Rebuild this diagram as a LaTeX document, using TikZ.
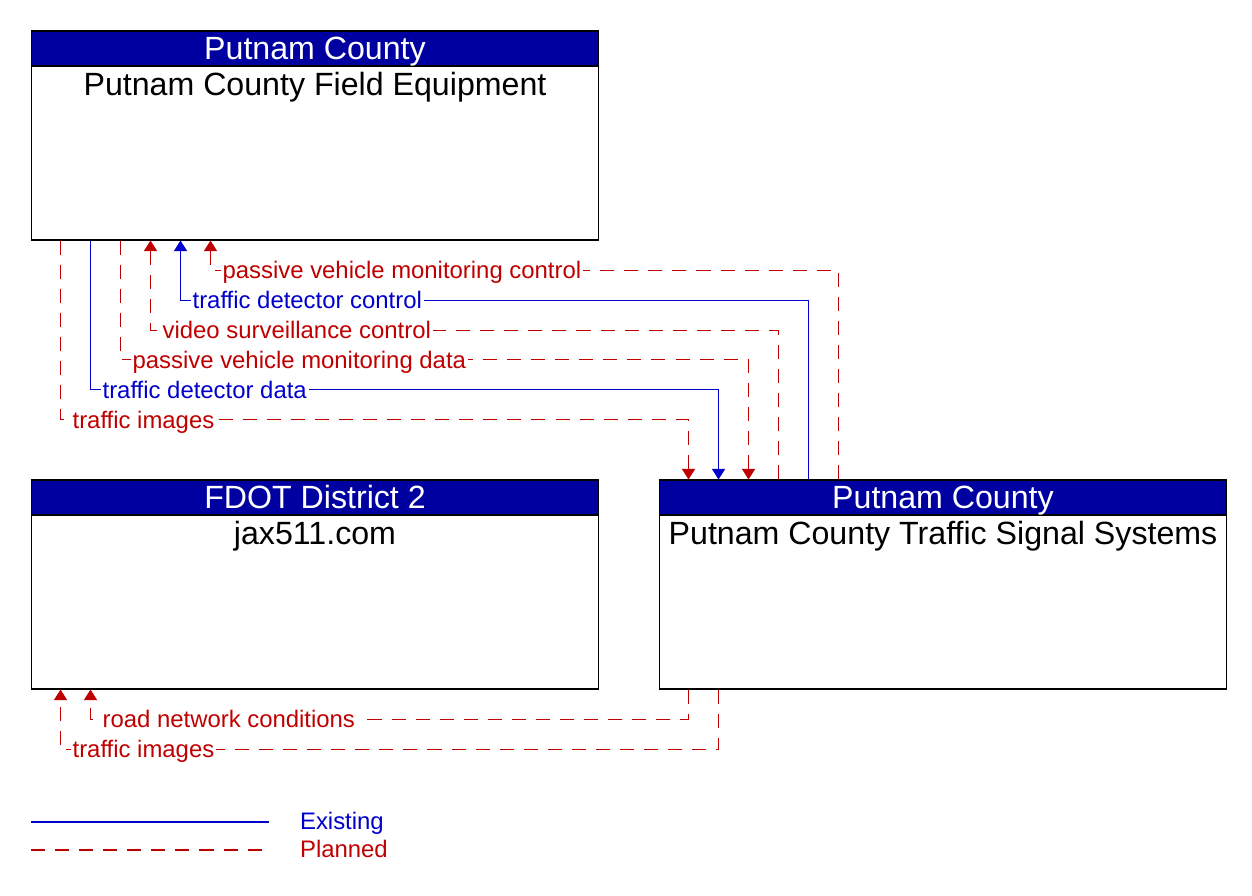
\documentclass[tikz,border=0pt]{standalone}
\usepackage{fontspec}
\setmainfont{Liberation Sans}
\usetikzlibrary{arrows.meta,calc}

\definecolor{hdrblue}{RGB}{0,0,160}
\definecolor{existblue}{RGB}{0,0,204}
\definecolor{planred}{RGB}{192,0,0}

\tikzset{
  elembox/.style={draw, line width=0.6pt, minimum width=11.36cm, minimum height=4.18cm, inner sep=0pt},
  elemhdr/.style={draw, line width=0.6pt, fill=hdrblue, text=white, anchor=north, minimum width=11.36cm, minimum height=0.7cm, inner sep=0pt, text height=13pt, text depth=0pt, font=\fontsize{18.3}{20}\selectfont},
  elemname/.style={font=\fontsize{18.3}{20}\selectfont, inner sep=0pt, text height=13pt, text depth=0pt},
  existing/.style={existblue, line width=0.6pt},
  planned/.style={planred, line width=0.6pt, dash pattern=on 8pt off 5.7pt},
  tip/.style={-{Triangle[width=7.4pt,length=6pt]}},
  flowlbl/.style={anchor=west, fill=white, inner xsep=1pt, inner ysep=0pt, text height=9.5pt, text depth=2.5pt, yshift=-1pt, font=\fontsize{13.6}{15}\selectfont}
}

\begin{document}
\begin{tikzpicture}[x=0.02cm, y=-0.02cm]
\useasboundingbox (0,0) rectangle (1252,896);

% elements
\node[elembox] (fe) at (315,135.5) {};
\node[elemhdr] (feh) at (fe.north) {Putnam County};
\node[elemname] (fet) at ($(fe.north)+(0,54)$) {Putnam County Field Equipment};

\node[elembox] (jax) at (315,584.5) {};
\node[elemhdr] (jaxh) at (jax.north) {FDOT District 2};
\node[elemname] (jaxt) at ($(jax.north)+(0,54)$) {jax511.com};

\node[elembox] (tss) at (943,584.5) {};
\node[elemhdr] (tssh) at (tss.north) {Putnam County};
\node[elemname] (tsst) at ($(tss.north)+(0,54)$) {Putnam County Traffic Signal Systems};

% flows field equipment -> signal systems
\draw[planned,tip] ($(fe.south west)+(30,0)$) |- ($(tss.north west)+(30,-60)$) -- ($(tss.north west)+(30,0)$);
\draw[existing,tip] ($(fe.south west)+(60,0)$) |- ($(tss.north west)+(60,-90)$) -- ($(tss.north west)+(60,0)$);
\draw[planned,tip] ($(fe.south west)+(90,0)$) |- ($(tss.north west)+(90,-120)$) -- ($(tss.north west)+(90,0)$);

% flows signal systems -> field equipment
\draw[planned,tip] ($(tss.north west)+(120,0)$) |- ($(fe.south west)+(120,90)$) -- ($(fe.south west)+(120,0)$);
\draw[existing,tip] ($(tss.north west)+(150,0)$) |- ($(fe.south west)+(150,60)$) -- ($(fe.south west)+(150,0)$);
\draw[planned,tip] ($(tss.north west)+(180,0)$) |- ($(fe.south west)+(180,30)$) -- ($(fe.south west)+(180,0)$);

% flows signal systems -> jax511
\draw[planned,tip] ($(tss.south west)+(30,0)$) |- ($(jax.south west)+(60,30)$) -- ($(jax.south west)+(60,0)$);
\draw[planned,tip] ($(tss.south west)+(60,0)$) |- ($(jax.south west)+(30,60)$) -- ($(jax.south west)+(30,0)$);

% flow labels
\node[flowlbl,text=planred] (l1) at ($(fe.south west)+(40,180)$) {traffic images};
\node[flowlbl,text=existblue] (l2) at ($(fe.south west)+(70,150)$) {traffic detector data};
\node[flowlbl,text=planred] (l3) at ($(fe.south west)+(100,120)$) {passive vehicle monitoring data};
\node[flowlbl,text=planred] (l4) at ($(fe.south west)+(130,90)$) {video surveillance control};
\node[flowlbl,text=existblue] (l5) at ($(fe.south west)+(160,60)$) {traffic detector control};
\node[flowlbl,text=planred] (l6) at ($(fe.south west)+(190,30)$) {passive vehicle monitoring control};
\node[flowlbl,text=planred] (l7) at ($(jax.south west)+(70,30)$) {road network conditions};
\node[flowlbl,text=planred] (l8) at ($(jax.south west)+(40,60)$) {traffic images};

% legend
\coordinate (ex0) at (31,822);
\coordinate (ex1) at (269,822);
\coordinate (pl0) at (31,850);
\coordinate (pl1) at (269,850);
\draw[existing] (ex0) -- (ex1);
\draw[planned] (pl0) -- (pl1);
\node[flowlbl,fill=none,text=existblue] (exl) at (298,822) {Existing};
\node[flowlbl,fill=none,text=planred] (pll) at (298,850) {Planned};
\end{tikzpicture}
\end{document}
